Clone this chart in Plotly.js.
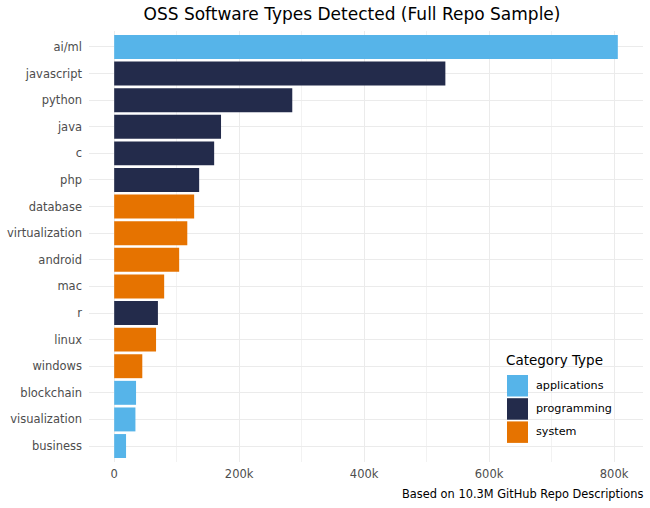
<!DOCTYPE html>
<html><head><meta charset="utf-8">
<script src="https://cdn.plot.ly/plotly-3.0.1.min.js"></script>
<style>body{margin:0;background:#fff}#chart{width:650px;height:508px}</style>
</head><body><div id="chart"></div>
<script>
const categories = ["ai/ml","javascript","python","java","c","php","database","virtualization","android","mac","r","linux","windows","blockchain","visualization","business"];
const counts = [806000,530000,285000,171000,160000,136000,128000,117000,104000,80000,70000,67000,45000,35000,34000,19000];
const types = ["applications","programming","programming","programming","programming","programming","system","system","system","system","programming","system","system","applications","applications","applications"];
const typeNames = ["applications","programming","system"];
const typeColors = ["#56B4E9","#232B4B","#E67300"];
const xTicks = [0,200000,400000,600000,800000];
const xTickText = ["0","200k","400k","600k","800k"];

const W=650,H=508, L=89, R=7, T=31, B=46;
const pw=W-L-R, ph=H-T-B;
const px=x=>(x-L)/pw, py=y=>(H-B-y)/ph;

const traces = typeNames.map((t,i)=>{
  const ys=[], xs=[];
  categories.forEach((c,j)=>{ if(types[j]===t){ys.push(c); xs.push(counts[j]);} });
  return {type:'bar', orientation:'h', name:t, x:xs, y:ys, marker:{color:typeColors[i], line:{width:0}}, showlegend:false, hoverinfo:'x+y'};
});

const maxV = Math.max(...counts);
const pad = maxV*0.05;

const shapes=[], annotations=[];
annotations.push({xref:'paper',yref:'paper',x:px(504),y:py(360),xanchor:'left',yanchor:'middle',text:'Category Type',showarrow:false,font:{family:'DejaVu Sans',size:13.5,color:'#000'}});
typeNames.forEach((t,i)=>{
  const top=375+i*23.2;
  shapes.push({type:'rect',xref:'paper',yref:'paper',x0:px(507),x1:px(528),y0:py(top),y1:py(top+21.5),fillcolor:typeColors[i],line:{width:0}});
  annotations.push({xref:'paper',yref:'paper',x:px(534),y:py(top+10.5),xanchor:'left',yanchor:'middle',text:t,showarrow:false,font:{family:'DejaVu Sans',size:11.2,color:'#000'}});
});
annotations.push({xref:'paper',yref:'paper',x:1+2/pw,y:py(494),xanchor:'right',yanchor:'middle',text:'Based on 10.3M GitHub Repo Descriptions',showarrow:false,font:{family:'DejaVu Sans',size:11.4,color:'#000'}});

const layout = {
  width:W, height:H, margin:{l:L,r:R,t:T,b:B},
  paper_bgcolor:'#fff', plot_bgcolor:'#fff',
  font:{family:'DejaVu Sans',size:11.5,color:'#4d4d4d'},
  title:{text:'OSS Software Types Detected (Full Repo Sample)', x:352/W, xanchor:'center', y:1-14/H, yanchor:'middle', font:{family:'DejaVu Sans',size:17,color:'#000'}},
  barmode:'overlay', bargap:0.1,
  xaxis:{range:[-pad,maxV+pad], tickvals:xTicks, ticktext:xTickText, showgrid:true, gridcolor:'#ebebeb', gridwidth:1, zeroline:false, showline:false, ticks:'', ticklabelstandoff:3,
    minor:{dtick:100000, tick0:0, showgrid:true, gridcolor:'#f2f2f2', gridwidth:1}, tickfont:{size:11.5,color:'#4d4d4d'}},
  yaxis:{type:'category', categoryorder:'array', categoryarray:categories.slice().reverse(), range:[-0.6, categories.length-0.4], showgrid:true, gridcolor:'#ebebeb', gridwidth:1, zeroline:false, showline:false, ticks:'', ticklabelstandoff:6, tickfont:{size:11.5,color:'#4d4d4d'}},
  shapes:shapes, annotations:annotations
};
Plotly.newPlot('chart', traces, layout, {displayModeBar:false, staticPlot:true});
</script></body></html>
